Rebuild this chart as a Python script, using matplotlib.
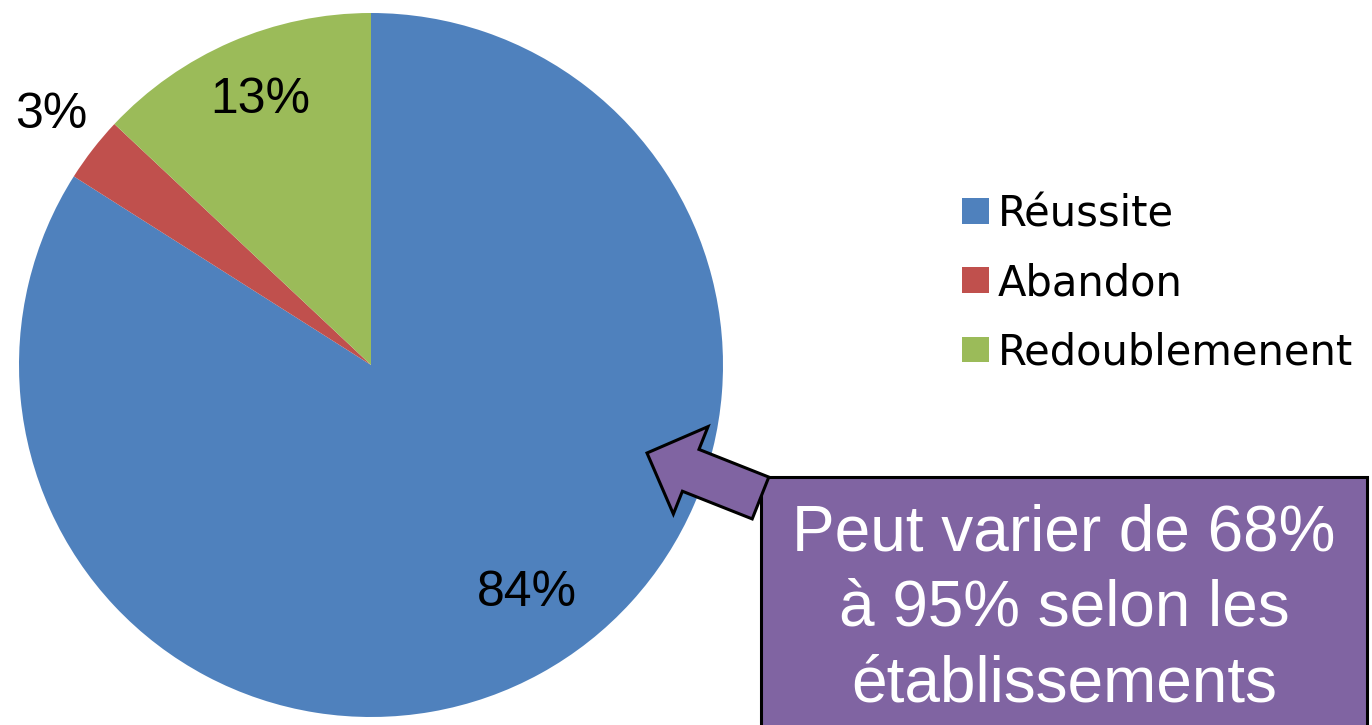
import matplotlib
matplotlib.use("Agg")
import matplotlib.pyplot as plt
import matplotlib.patches as mpatches

# ---- data ----
categories = ["Réussite", "Abandon", "Redoublemenent"]
values = [84, 3, 13]
colors = ["#4F81BD", "#C0504D", "#9BBB59"]
callout_text = "Peut varier de 68%\nà 95% selon les\nétablissements"

W, H = 1372, 725
fig = plt.figure(figsize=(W / 100, H / 100), dpi=100)
ax = fig.add_axes([0, 0, 1, 1])

def Y(py):
    return H - py

cx, cy, r = 371, Y(365), 352
wedges, _ = ax.pie(values, colors=colors, startangle=90, counterclock=False,
                   center=(cx, cy), radius=r, frame=True,
                   wedgeprops=dict(linewidth=0))

# percentage labels
label_pos = [(527, 593), (51, 115), (260, 100)]
for v, (px, py) in zip(values, label_pos):
    ax.text(px, Y(py), f"{v}%", ha="center", va="center", fontsize=36,
            family="Liberation Sans", color="black")

# legend
leg = ax.legend(wedges, categories, loc="upper left",
                bbox_to_anchor=(962, Y(193)), bbox_transform=ax.transData,
                frameon=False, prop=dict(family="DejaVu Sans", size=30),
                handlelength=0.65, handleheight=0.58, handletextpad=0.2,
                labelspacing=0.65, borderpad=0, borderaxespad=0)

# callout box
box = mpatches.Rectangle((761, Y(760)), 1367 - 761, 760 - 477,
                         facecolor="#8064A2", edgecolor="black", linewidth=2.2,
                         zorder=3)
ax.add_patch(box)
arrow = mpatches.FancyArrow(760.5, Y(498), -113.5, 45, width=45, head_width=94,
                            head_length=47, length_includes_head=True,
                            facecolor="#8064A2", edgecolor="black",
                            linewidth=2.2, zorder=4)
ax.add_patch(arrow)
ax.text(1064, Y(609), callout_text, ha="center", va="center", fontsize=46,
        family="Liberation Sans", color="white", linespacing=1.33, zorder=5)

ax.set_xlim(0, W)
ax.set_ylim(0, H)
ax.set_aspect("auto")
ax.axis("off")
fig.savefig("out.png", dpi=100)
